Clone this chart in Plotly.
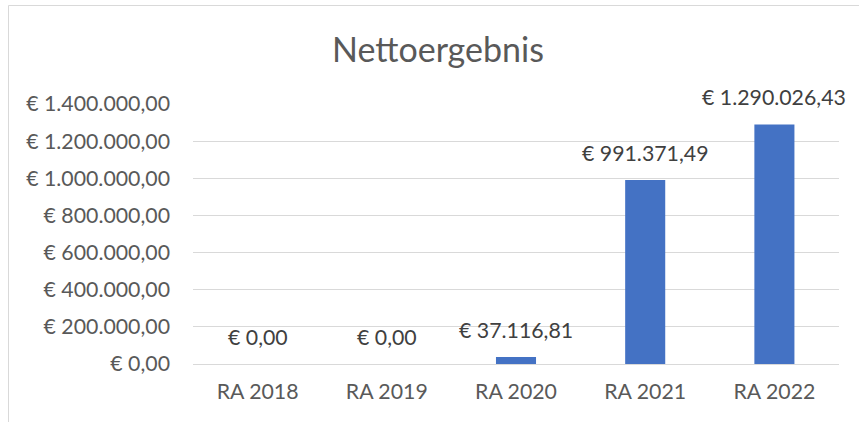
import plotly.graph_objects as go

categories = ["RA 2018", "RA 2019", "RA 2020", "RA 2021", "RA 2022"]
values = [0.0, 0.0, 37116.81, 991371.49, 1290026.43]
value_labels = ["€ 0,00", "€ 0,00", "€ 37.116,81", "€ 991.371,49", "€ 1.290.026,43"]
y_tickvals = [0, 200000, 400000, 600000, 800000, 1000000, 1200000, 1400000]
y_ticktext = ["€ 0,00", "€ 200.000,00", "€ 400.000,00", "€ 600.000,00",
              "€ 800.000,00", "€ 1.000.000,00", "€ 1.200.000,00", "€ 1.400.000,00"]
title_text = "Nettoergebnis"

FONT = "Lato, Roboto, sans-serif"
W, H = 859, 422
L, R, T, B = 193, 20, 104, 58
pw, ph = W - L - R, H - T - B

fig = go.Figure()
fig.add_trace(go.Bar(
    x=categories, y=values, width=0.31,
    marker=dict(color="#4472C4", line=dict(width=0)),
    hoverinfo="skip",
))

for c, v, t in zip(categories, values, value_labels):
    fig.add_annotation(x=c, y=v, text=t, showarrow=False, yanchor="middle",
                       yshift=27, font=dict(family=FONT, size=21.3, color="#404040"))

fig.add_annotation(xref="paper", yref="paper", x=(438 - L) / pw,
                   y=(H - B - 48) / ph, text=title_text, showarrow=False,
                   xanchor="center", yanchor="middle",
                   font=dict(family=FONT, size=34, color="#595959"))

fig.add_shape(type="rect", xref="paper", yref="paper",
              x0=(8.5 - L) / pw, x1=(W + 5 - L) / pw,
              y0=(H - B - (H + 5)) / ph, y1=(H - B - 5.5) / ph,
              line=dict(color="#d9d9d9", width=1), fillcolor="rgba(0,0,0,0)", layer="below")

fig.update_layout(
    width=W, height=H,
    margin=dict(l=L, r=R, t=T, b=B, pad=0, autoexpand=False),
    paper_bgcolor="white", plot_bgcolor="white",
    showlegend=False,
    font=dict(family=FONT, color="#595959"),
    xaxis=dict(range=[-0.5, 4.5], automargin=False,
               showgrid=False, showline=False, ticks="", ticklabelstandoff=13,
               tickfont=dict(family=FONT, size=21.3, color="#595959")),
    yaxis=dict(range=[0, 1400000], automargin=False,
               tickvals=y_tickvals, ticktext=y_ticktext,
               showgrid=True, gridcolor="#d9d9d9", gridwidth=1.3,
               zeroline=True, zerolinecolor="#d9d9d9", zerolinewidth=1.3,
               showline=False, ticks="", ticklabelstandoff=22,
               tickfont=dict(family=FONT, size=21.3, color="#595959")),
)

fig.write_html(
    "out.html",
    config={"responsive": False, "displayModeBar": False},
    post_script="document.body.style.margin='0';document.body.style.overflow='hidden';",
)
